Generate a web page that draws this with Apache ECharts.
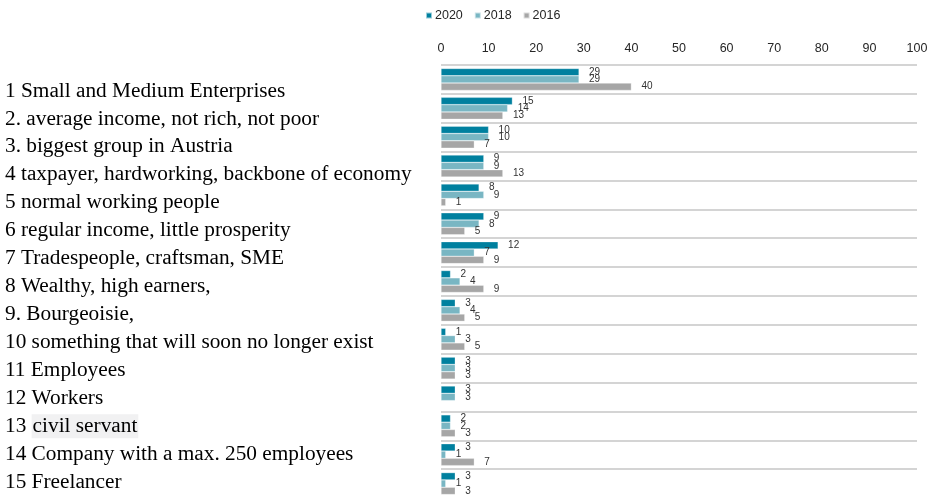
<!DOCTYPE html>
<html>
<head>
<meta charset="utf-8">
<script src="https://cdn.jsdelivr.net/npm/echarts@6/dist/echarts.min.js"></script>
<style>
  html, body { margin: 0; padding: 0; background: #fff; }
  #chart { width: 934px; height: 497px; }
</style>
</head>
<body>
<div id="chart"></div>
<script>
// Associations with the term, share of answers in percent
const categories = [
  '1 Small and Medium Enterprises',
  '2. average income, not rich, not poor',
  '3. biggest group in Austria',
  '4 taxpayer, hardworking, backbone of economy',
  '5 normal working people',
  '6 regular income, little prosperity',
  '7 Tradespeople, craftsman, SME',
  '8 Wealthy, high earners,',
  '9. Bourgeoisie,',
  '10 something that will soon no longer exist',
  '11 Employees',
  '12 Workers',
  '13 civil servant',
  '14 Company with a max. 250 employees',
  '15 Freelancer'
];
const values2020 = [29, 15, 10, 9, 8, 9, 12, 2, 3, 1, 3, 3, 2, 3, 3];
const values2018 = [29, 14, 10, 9, 9, 8, 7, 4, 4, 3, 3, 3, 2, 1, 1];
const values2016 = [40, 13, 7, 13, 1, 5, 9, 9, 5, 5, 3, null, 3, 7, 3];
const seriesNames = ['2020', '2018', '2016'];
const xTicks = { min: 0, max: 100, interval: 10 };

const colors = ['#00809f', '#79b6c3', '#a6a6a6'];
const chart = echarts.init(document.getElementById('chart'));

const valueLabel = {
  show: true,
  position: 'right',
  distance: 10,
  fontFamily: 'Liberation Sans, Arial, sans-serif',
  fontSize: 10,
  color: '#333'
};

function barSeries(name, data, color) {
  return {
    name: name,
    type: 'bar',
    xAxisIndex: 0,
    yAxisIndex: 0,
    data: data,
    barGap: '0%',
    barCategoryGap: '24%',
    itemStyle: { color: color, borderColor: 'rgba(255,255,255,0.6)', borderWidth: 0.5 },
    label: valueLabel,
    animation: false
  };
}

chart.setOption({
  animation: false,
  color: colors,
  legend: {
    data: seriesNames,
    left: 420,
    top: 4,
    icon: 'rect',
    itemWidth: 6,
    itemHeight: 6,
    itemGap: 11,
    textStyle: {
      fontFamily: 'Liberation Sans, Arial, sans-serif',
      fontSize: 12.5,
      color: '#262626',
      padding: [0, 0, 0, -2]
    }
  },
  grid: [
    // bars; the last row boundary sits just below the canvas edge
    { left: 441, right: 17, top: 65, height: 433, containLabel: false, outerBoundsMode: 'none' },
    // label column on the left
    { left: 430, width: 1, top: 77, height: 419, containLabel: false, outerBoundsMode: 'none' }
  ],
  xAxis: [
    {
      type: 'value',
      gridIndex: 0,
      position: 'top',
      min: xTicks.min,
      max: xTicks.max,
      interval: xTicks.interval,
      axisLine: { show: false },
      axisTick: { show: false },
      splitLine: { show: false },
      axisLabel: {
        margin: 10,
        fontFamily: 'Liberation Sans, Arial, sans-serif',
        fontSize: 12.5,
        color: '#262626'
      }
    },
    {
      type: 'value',
      gridIndex: 1,
      show: false
    }
  ],
  yAxis: [
    {
      type: 'category',
      gridIndex: 0,
      data: categories,
      inverse: true,
      axisLine: { show: false },
      axisTick: { show: false },
      axisLabel: { show: false },
      splitLine: { show: true, lineStyle: { color: '#c6c6c6', width: 1.5 } }
    },
    {
      type: 'category',
      gridIndex: 1,
      data: categories,
      inverse: true,
      axisLine: { show: false },
      axisTick: { show: false },
      splitLine: { show: false },
      axisLabel: {
        align: 'left',
        margin: 425,
        fontFamily: 'Liberation Serif, Times New Roman, serif',
        fontSize: 21.3,
        color: '#000',
        formatter: function (v) {
          if (v.indexOf('13 ') === 0) {
            return '13 {hl|' + v.slice(3) + '}';
          }
          return v;
        },
        rich: {
          hl: {
            fontFamily: 'Liberation Serif, Times New Roman, serif',
            fontSize: 21.3,
            color: '#000',
            backgroundColor: '#f1f1f2',
            padding: [2, 1, 1, 1]
          }
        }
      }
    }
  ],
  series: [
    barSeries(seriesNames[0], values2020, colors[0]),
    barSeries(seriesNames[1], values2018, colors[1]),
    barSeries(seriesNames[2], values2016, colors[2])
  ]
});
</script>
</body>
</html>
